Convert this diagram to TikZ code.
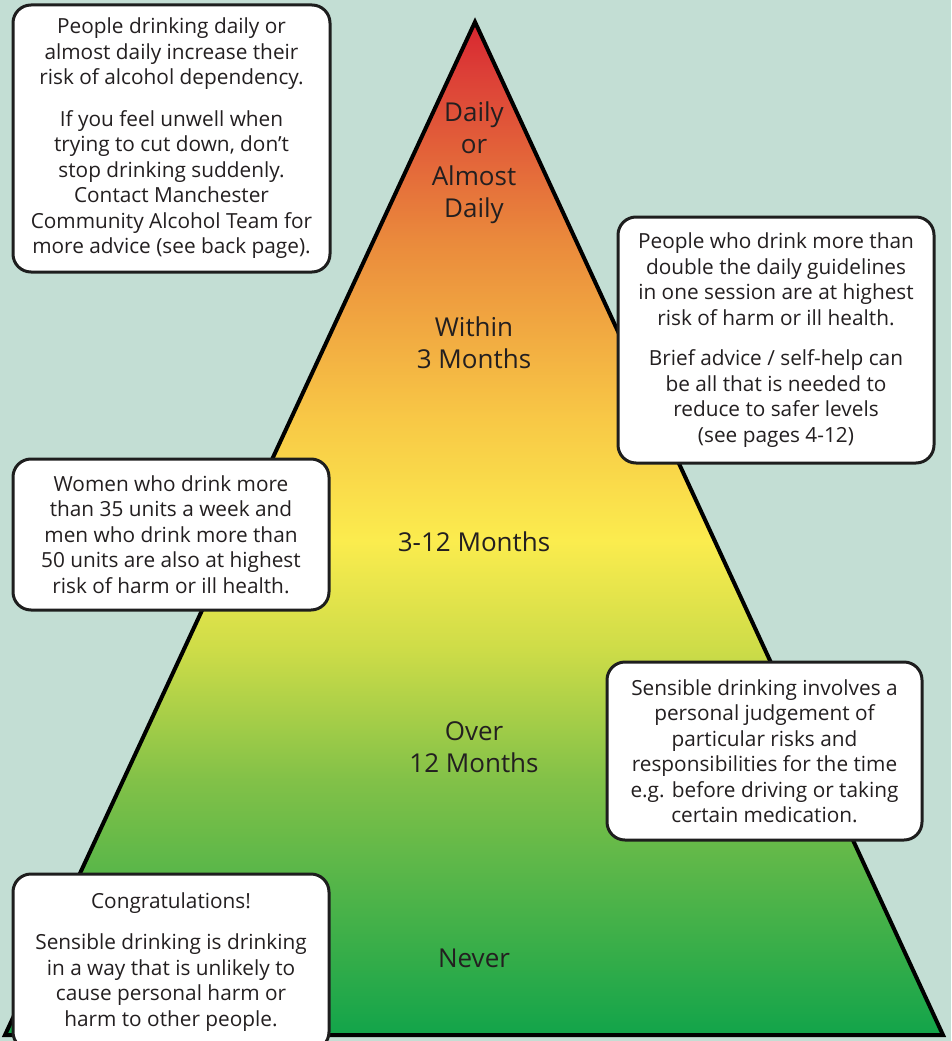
\documentclass[tikz,border=0pt]{standalone}
\usepackage{fontspec}
\setmainfont{Open Sans}
\definecolor{bg}{RGB}{195,222,212}
\definecolor{txt}{RGB}{35,31,32}
\definecolor{boxline}{RGB}{30,30,30}
\pgfdeclareverticalshading{pyr}{100bp}{%
color(0bp)=(rgb,255:red,18;green,164;blue,74);
color(25bp)=(rgb,255:red,18;green,164;blue,74);
color(37.6bp)=(rgb,255:red,130;green,193;blue,72);
color(44bp)=(rgb,255:red,205;green,220;blue,72);
color(49.4bp)=(rgb,255:red,251;green,236;blue,78);
color(55.4bp)=(rgb,255:red,248;green,200;blue,70);
color(64.2bp)=(rgb,255:red,234;green,138;blue,60);
color(72.6bp)=(rgb,255:red,220;green,62;blue,55);
color(75bp)=(rgb,255:red,216;green,38;blue,47);
color(100bp)=(rgb,255:red,216;green,38;blue,47)}
\tikzset{
  infobox/.style={draw=boxline, line width=3pt, rounded corners=18pt, fill=white,
    align=center, text=txt, inner sep=0pt,
    font=\fontsize{20.8}{25.5}\selectfont},
  level/.style={align=center, text=txt, inner sep=0pt,
    font=\fontsize{26}{32}\selectfont}
}
\begin{document}
\begin{tikzpicture}[x=1pt,y=-1pt]
\useasboundingbox (0,0) rectangle (951,1041);
\clip (0,0) rectangle (951,1041);
\fill[bg] (0,0) rectangle (951,1041);
% pyramid
\coordinate (apex) at (475,22);
\coordinate (bl) at (5,1035);
\coordinate (br) at (943,1035);
\shade[shading=pyr] (apex) -- (br) -- (bl) -- cycle;
\draw[line width=4pt, line join=miter] (apex) -- (br) -- (bl) -- cycle;
% level labels
\node[level] (l1) at (474,163) {Daily\\or\\Almost\\Daily};
\node[level] (l2) at (474,343) {Within\\3 Months};
\node[level] (l3) at (474,542) {3-12 Months};
\node[level] (l4) at (474,747) {Over\\12 Months};
\node[level] (l5) at (474,958) {Never};
% boxes
\node[infobox, minimum width=317pt, minimum height=267pt] (b1) at (171.5,138.5)
 {People drinking daily or\\almost daily increase their\\risk of alcohol dependency.\\[16pt]
  If you feel unwell when\\trying to cut down, don’t\\stop drinking suddenly.\\Contact Manchester\\Community Alcohol Team for\\more advice (see back page).};
\node[infobox, minimum width=316pt, minimum height=246pt] (b2) at (776,340)
 {People who drink more than\\double the daily guidelines\\in one session are at highest\\risk of harm or ill health.\\[15pt]
  Brief advice / self-help can\\be all that is needed to\\reduce to safer levels\\(see pages 4-12)};
\node[infobox, minimum width=316pt, minimum height=151pt] (b3) at (171,534.5)
 {Women who drink more\\than 35 units a week and\\men who drink more than\\50 units are also at highest\\risk of harm or ill health.};
\node[infobox, minimum width=315pt, minimum height=178pt] (b4) at (764.5,751)
 {Sensible drinking involves a\\personal judgement of\\particular risks and\\responsibilities for the time\\e.g. before driving or taking\\certain medication.};
\node[infobox, minimum width=316pt, minimum height=176pt] (b5) at (171,962)
 {Congratulations!\\[16pt]
  Sensible drinking is drinking\\in a way that is unlikely to\\cause personal harm or\\harm to other people.};
\end{tikzpicture}
\end{document}
